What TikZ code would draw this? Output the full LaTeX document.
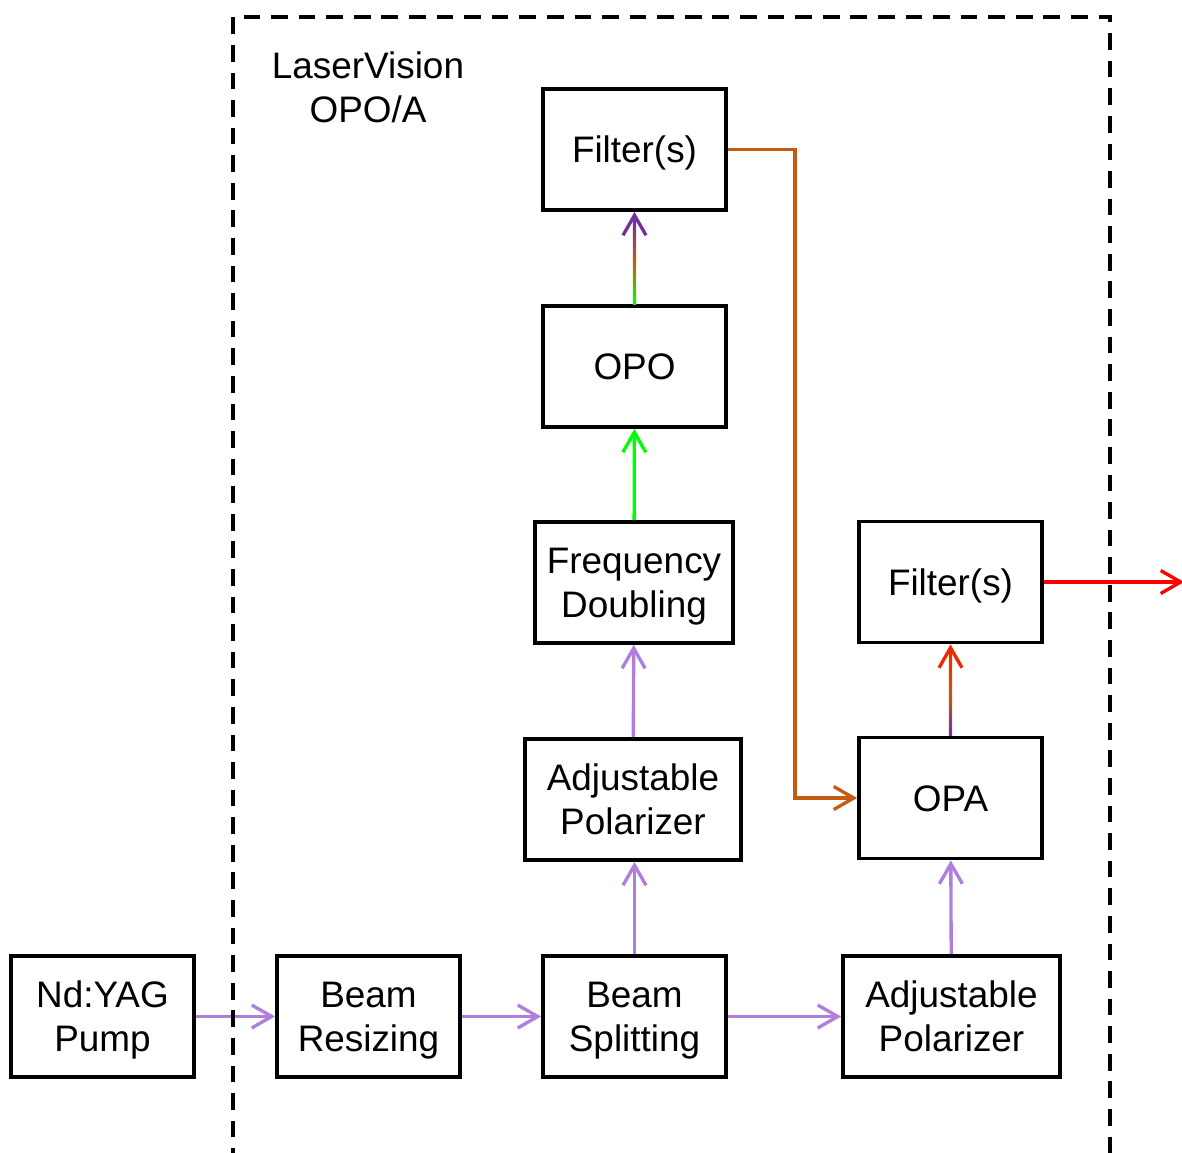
\documentclass[tikz,border=0pt]{standalone}
\usepackage{fontspec}
\setmainfont{Liberation Sans}
\usetikzlibrary{arrows.meta}
\usetikzlibrary{calc}

\definecolor{pumppurple}{RGB}{176,126,220}
\definecolor{idlerorange}{RGB}{197,90,17}
\definecolor{shgreen}{RGB}{0,255,0}
\definecolor{darkpurple}{RGB}{112,48,160}
\definecolor{outred}{RGB}{255,0,0}
\definecolor{hotred}{RGB}{240,40,0}

\tikzset{
    block/.style={draw, line width=2.2pt, minimum width=3.66cm, minimum height=2.42cm,
        align=center, inner sep=0pt, text height=15pt, text depth=0pt,
        font=\fontsize{21}{25}\selectfont},
    twoline/.style={text height=40pt},
    beam/.style={line width=1.9pt, -{Straight Barb[length=0.4cm,width=0.46cm]}},
}

\begin{document}
\begin{tikzpicture}[x=0.02cm,y=-0.02cm]
    \useasboundingbox (0,0) rectangle (1182,1152);

    % bottom row
    \node[block, twoline] (pump) at (102.5,1016.5) {Nd:YAG\\Pump};
    \node[block, twoline] (resize) at (368.5,1016.5) {Beam\\Resizing};
    \node[block, twoline] (split) at (634.5,1016.5) {Beam\\Splitting};
    \node[block, twoline, minimum width=4.34cm] (polB) at (951.5,1016.5) {Adjustable\\Polarizer};

    % OPO branch
    \node[block, twoline, minimum width=4.32cm] (polA) at (633,799.5) {Adjustable\\Polarizer};
    \node[block, twoline, minimum width=3.96cm] (freq) at (634,582.5) {Frequency\\Doubling};
    \node[block] (opo) at (634.5,366.5) {OPO};
    \node[block] (filtA) at (634.5,149.5) {Filter(s)};

    % OPA branch
    \node[block] (opa) at (950.5,798) {OPA};
    \node[block] (filtB) at (950.5,582) {Filter(s)};

    \node[align=center, font=\fontsize{21}{25}\selectfont] (title) at (368,87) {LaserVision\\OPO/A};

    \draw[beam, pumppurple] (pump) -- (resize);
    \draw[beam, pumppurple] (resize) -- (split);
    \draw[beam, pumppurple] (split) -- (polB);
    \draw[beam, pumppurple] (split) -- (split|-polA.south);
    \draw[beam, pumppurple] (polA) -- (freq);
    \draw[beam, pumppurple] (polB) -- (opa);
    \draw[beam, shgreen] (freq) -- (opo);

    % graded beams
    \shade[bottom color=shgreen, top color=darkpurple, middle color=idlerorange]
        ($(opo.north)+(-1.7,0)$) rectangle ($(filtA.south)+(1.7,8)$);
    \draw[beam, darkpurple] ($(filtA.south)+(0,8)$) -- (filtA.south);
    \shade[bottom color=darkpurple, top color=hotred, middle color=idlerorange]
        ($(opa.north)+(-1.7,0)$) rectangle ($(filtB.south)+(1.7,8)$);
    \draw[beam, hotred] ($(filtB.south)+(0,8)$) -- (filtB.south);

    \draw[beam, idlerorange] (filtA.east) -- ++(67,0) |- (opa.west);

    \coordinate (out) at (1184,582);
    \draw[beam, outred] (filtB.east) -- (out);

    % housing
    \draw[line width=2pt, dash pattern=on 9.5pt off 6.2pt] (233,1165) |- (1110,17) -- (1110,1165);
\end{tikzpicture}
\end{document}
